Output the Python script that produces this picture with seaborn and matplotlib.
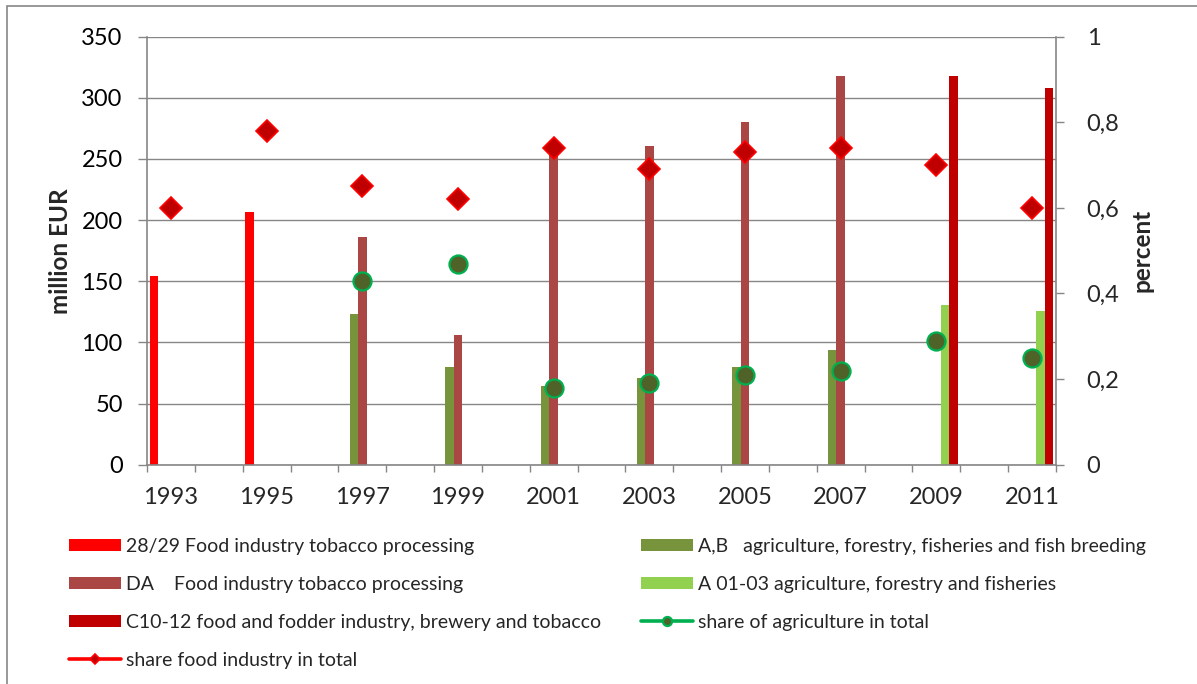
import numpy as np
import pandas as pd
import matplotlib
matplotlib.use("Agg")
import matplotlib.pyplot as plt
import matplotlib.ticker as mticker
from matplotlib.patches import Rectangle
import seaborn as sns

nan = np.nan

# Every year forms a category slot; values are reported for odd years only
years = list(range(1993, 2012))
report_years = [1993, 1995, 1997, 1999, 2001, 2003, 2005, 2007, 2009, 2011]
year_labels = [str(y) for y in report_years]

# Gross value added, million EUR
food_2829 = [154, 207, nan, nan, nan, nan, nan, nan, nan, nan]
agri_ab = [nan, nan, 123, 80, 64, 71, 80, 94, nan, nan]
food_da = [nan, nan, 186, 106, 258, 261, 280, 318, nan, nan]
agri_a0103 = [nan, nan, nan, nan, nan, nan, nan, nan, 131, 126]
food_c1012 = [nan, nan, nan, nan, nan, nan, nan, nan, 318, 308]

# Shares in total, percent
share_agri = [nan, nan, 0.43, 0.47, 0.18, 0.19, 0.21, 0.22, 0.29, 0.25]
share_food = [0.60, 0.78, 0.65, 0.62, 0.74, 0.69, 0.73, 0.74, 0.70, 0.60]

bar_names = [
    "28/29 Food industry tobacco processing",
    "A,B   agriculture, forestry, fisheries and fish breeding",
    "DA    Food industry tobacco processing",
    "A 01-03 agriculture, forestry and fisheries",
    "C10-12 food and fodder industry, brewery and tobacco",
]
bar_values = [food_2829, agri_ab, food_da, agri_a0103, food_c1012]
bar_colors = ["#FF0000", "#77933C", "#AA4643", "#92D050", "#C00000"]
agri_name = "share of agriculture in total"
food_name = "share food industry in total"

rows = []
for name, vals in zip(bar_names, bar_values):
    for y, v in zip(report_years, vals):
        if not np.isnan(v):
            rows.append({"year": str(y), "series": name, "value": v})
bars = pd.DataFrame(rows)

sns.set_theme(style="white")
plt.rcParams["font.family"] = ["Lato", "DejaVu Sans"]

grey = "#868686"
W, H = 1197, 684
fig = plt.figure(figsize=(W / 100, H / 100), dpi=100)
ax = fig.add_axes([147 / W, 1 - 464.7 / H, 909 / W, 428 / H])

order = [str(y) for y in years]
sns.barplot(data=bars, x="year", y="value", hue="series", order=order,
            hue_order=bar_names, palette=dict(zip(bar_names, bar_colors)),
            width=0.887, errorbar=None, linewidth=0, saturation=1, ax=ax)
leg = ax.get_legend()
bar_handles = list(leg.legend_handles)
leg.remove()

ax2 = ax.twinx()
xpos = np.arange(len(years))
agri_full = pd.Series(share_agri, index=report_years).reindex(years).to_numpy()
food_full = pd.Series(share_food, index=report_years).reindex(years).to_numpy()
agri_line, = ax2.plot(xpos, agri_full, color="#00B050", lw=2.6, marker="o", ms=13,
                      mfc="#4F6228", mec="#00B050", mew=1.6, label=agri_name)
food_line, = ax2.plot(xpos, food_full, color="#FF0000", lw=2.6, marker="D", ms=11,
                      mfc="#C00000", mec="#FF0000", mew=1.2, label=food_name)

# Left axis
ax.set_xlim(-0.5, len(years) - 0.5)
ax.set_ylim(0, 350)
ax.set_yticks(np.arange(0, 351, 50))
ax.set_axisbelow(True)
ax.yaxis.grid(True, color=grey, lw=1.0)
ax.xaxis.grid(False)
ax.set_xlabel("")
ax.set_ylabel("million EUR", fontsize=17.5, fontweight="bold", va="center")
ax.yaxis.set_label_coords((60 - 147) / 909, 0.5)
ax.tick_params(axis="y", which="major", left=True, length=6.5, width=1, color=grey,
               pad=11, labelsize=17, labelcolor="black")

# Ticks sit between the yearly slots, labels on every second year
ax.set_xticks(np.arange(-0.5, len(years), 1))
ax.set_xticklabels([])
ax.set_xticks(np.arange(0, len(years), 2), minor=True)
ax.set_xticklabels(year_labels, minor=True)
ax.tick_params(axis="x", which="major", bottom=True, length=5, width=1, color=grey)
ax.tick_params(axis="x", which="minor", bottom=True, length=0, pad=16, labelsize=17)

for side in ["top", "right"]:
    ax.spines[side].set_visible(False)
for side in ["left", "bottom"]:
    ax.spines[side].set_color(grey)
    ax.spines[side].set_linewidth(1.2)

# Right axis
ax2.set_ylim(0, 1)
ax2.set_yticks(np.arange(0, 1.01, 0.2))
ax2.yaxis.set_major_formatter(mticker.FuncFormatter(
    lambda v, _: "0" if abs(v) < 1e-9 else ("1" if abs(v - 1) < 1e-9 else f"{v:.1f}".replace(".", ","))))
ax2.tick_params(axis="y", right=True, length=6, width=1, color=grey, pad=16, labelsize=17)
ax2.set_ylabel("percent", fontsize=17.5, fontweight="bold", va="center")
ax2.yaxis.set_label_coords((1142 - 147) / 909, 0.5)
for side in ["top", "left", "bottom"]:
    ax2.spines[side].set_visible(False)
ax2.spines["right"].set_color(grey)
ax2.spines["right"].set_linewidth(1.2)
ax2.grid(False)
ax2.set_xlim(-0.5, len(years) - 0.5)

# Legend in two columns below the plot
legend_kw = dict(loc="upper left", frameon=False, fontsize=14, borderaxespad=0,
                 borderpad=0, handlelength=2.67, handleheight=0.62, handletextpad=0.25,
                 labelspacing=1.08, markerscale=0.5)
fig.legend([bar_handles[0], bar_handles[2], bar_handles[4], food_line],
           [bar_names[0], bar_names[2], bar_names[4], food_name],
           bbox_to_anchor=(69 / W, 1 - 538 / H), **legend_kw)
fig.legend([bar_handles[1], bar_handles[3], agri_line],
           [bar_names[1], bar_names[3], agri_name],
           bbox_to_anchor=(641 / W, 1 - 538 / H), **legend_kw)

# Chart area frame
fig.patches.append(Rectangle((7 / W, -0.1), 1.2, 1.1 - 6 / H, transform=fig.transFigure,
                             fill=False, edgecolor=grey, lw=1.2))

fig.savefig("out.png", dpi=100)
